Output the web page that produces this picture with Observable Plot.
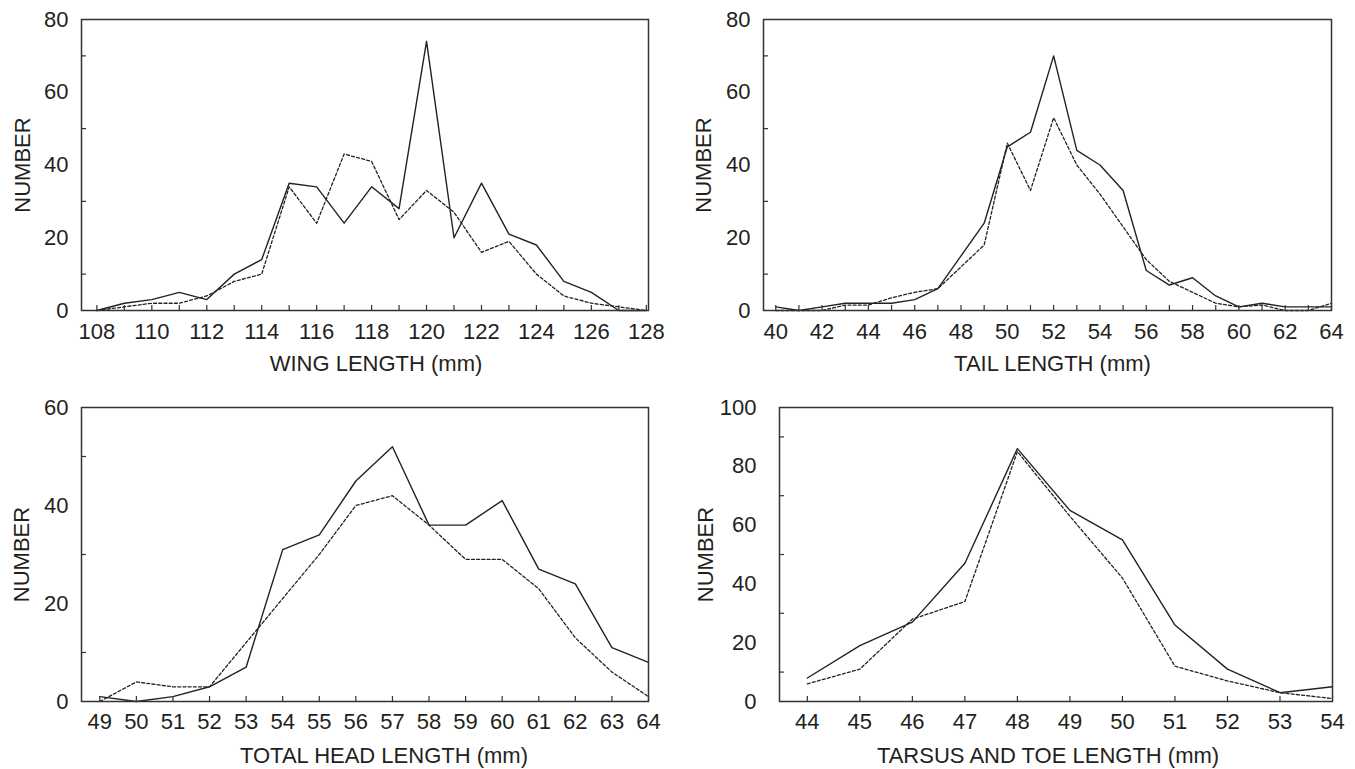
<!DOCTYPE html>
<html>
<head>
<meta charset="utf-8">
<script src="https://cdn.jsdelivr.net/npm/d3@7"></script>
<script src="https://cdn.jsdelivr.net/npm/@observablehq/plot@0.6"></script>
<style>
  html, body { margin: 0; padding: 0; background: #fff; }
  #wrap { position: relative; width: 1355px; height: 769px; overflow: hidden; }
  #wrap > div { position: absolute; }
</style>
</head>
<body>
<div id="wrap">
  <div id="p1" style="left:0;top:0"></div>
  <div id="p2" style="left:677px;top:0"></div>
  <div id="p3" style="left:0;top:385px"></div>
  <div id="p4" style="left:677px;top:385px"></div>
</div>
<script>
// ---- Data ----
const wingX      = [108,109,110,111,112,113,114,115,116,117,118,119,120,121,122,123,124,125,126,127,128];
const wingSolid  = [0,2,3,5,3,10,14,35,34,24,34,28,74,20,35,21,18,8,5,0,0];
const wingDashed = [0,1,2,2,4,8,10,34,24,43,41,25,33,27,16,19,10,4,2,1,0];
const wingXTicks = [108,110,112,114,116,118,120,122,124,126,128];

const tailX      = [40,41,42,43,44,45,46,47,48,49,50,51,52,53,54,55,56,57,58,59,60,61,62,63,64];
const tailSolid  = [1,0,1,2,2,2,3,6,15,24,45,49,70,44,40,33,11,7,9,4,1,2,1,1,1];
const tailDashed = [0,0,0,1.5,1.5,3.5,5,6,12,18,46,33,53,40,32,23,14,8,5,2,1,1.5,0,0,2];
const tailXTicks = [40,42,44,46,48,50,52,54,56,58,60,62,64];

const headX      = [49,50,51,52,53,54,55,56,57,58,59,60,61,62,63,64];
const headSolid  = [1,0,1,3,7,31,34,45,52,36,36,41,27,24,11,8];
const headDashed = [0,4,3,3,12,21,30,40,42,36,29,29,23,13,6,1];
const headXTicks = [49,50,51,52,53,54,55,56,57,58,59,60,61,62,63,64];

const tarsusX      = [44,45,46,47,48,49,50,51,52,53,54];
const tarsusSolid  = [8,19,27,47,86,65,55,26,11,3,5];
const tarsusDashed = [6,11,28,34,85,63,42,12,7,3,1];
const tarsusXTicks = [44,45,46,47,48,49,50,51,52,53,54];

const xTitles = ["WING LENGTH (mm)", "TAIL LENGTH (mm)", "TOTAL HEAD LENGTH (mm)", "TARSUS AND TOE LENGTH (mm)"];
const yTitle = "NUMBER";
const yLabels80 = [0,20,40,60,80];
const yMinor80 = [10,30,50,70];
const yLabels60 = [0,20,40,60];
const yMinor60 = [10,30,50];
const yLabels100 = [0,20,40,60,80,100];
const yMinor100 = [10,30,50,70,90];

// ---- Drawing ----
const ink = "#231f20";
function rows(xs, ys) { return xs.map((x, i) => ({x, y: ys[i]})); }

function panel(el, cfg) {
  const innerH = cfg.height - cfg.marginTop - cfg.marginBottom;
  const innerW = cfg.width - cfg.marginLeft - cfg.marginRight;
  const xTickAll = d3.range(Math.ceil(cfg.xDomain[0]), Math.floor(cfg.xDomain[1]) + 1);
  const chart = Plot.plot({
    width: cfg.width, height: cfg.height,
    marginLeft: cfg.marginLeft, marginRight: cfg.marginRight,
    marginTop: cfg.marginTop, marginBottom: cfg.marginBottom,
    x: {domain: cfg.xDomain},
    y: {domain: cfg.yDomain},
    style: {fontFamily: "'Liberation Sans', Arial, sans-serif", fontSize: "22px", color: ink, background: "transparent", overflow: "visible"},
    marks: [
      Plot.line(rows(cfg.xs, cfg.dashed), {x: "x", y: "y", stroke: "#222", strokeWidth: 1.3, strokeDasharray: "3,2.2"}),
      Plot.line(rows(cfg.xs, cfg.solid), {x: "x", y: "y", stroke: "#222", strokeWidth: 1.4}),
      Plot.tickX(xTickAll, {x: d => d, stroke: "#333", strokeWidth: 1.2, insetTop: innerH - 5}),
      Plot.tickY(cfg.yMinor, {y: d => d, stroke: "#333", strokeWidth: 1.2, insetRight: innerW - 5}),
      Plot.axisX({ticks: cfg.xTicks, tickSize: 0, tickPadding: cfg.xPad, tickFormat: d => String(d), label: null, fontSize: 22}),
      Plot.axisY({ticks: cfg.yLabels, tickSize: 0, tickPadding: cfg.yPad, tickFormat: d => String(d), label: null, fontSize: 22}),
      Plot.text([cfg.xTitle], {text: d => d, frameAnchor: "bottom", lineAnchor: "top", dy: cfg.titleDy, dx: cfg.titleDx, fill: ink, fontSize: 22}),
      Plot.text([yTitle], {text: d => d, frameAnchor: "left", rotate: -90, textAnchor: "middle", lineAnchor: "middle", dx: cfg.yTitleDx, fill: ink, fontSize: 22}),
      Plot.frame({stroke: "#333", strokeWidth: 1.5})
    ]
  });
  document.getElementById(el).appendChild(chart);
}

panel("p1", {
  width: 677, height: 385, marginLeft: 81, marginRight: 29, marginTop: 19, marginBottom: 75,
  xDomain: [107.44, 128.08], yDomain: [0, 80],
  xs: wingX, solid: wingSolid, dashed: wingDashed,
  xTicks: wingXTicks, yLabels: yLabels80, yMinor: yMinor80,
  xPad: 13, yPad: 13, xTitle: xTitles[0], titleDy: 45, titleDx: 11, yTitleDx: -59
});
panel("p2", {
  width: 678, height: 385, marginLeft: 86, marginRight: 24, marginTop: 19, marginBottom: 75,
  xDomain: [39.47, 64], yDomain: [0, 80],
  xs: tailX, solid: tailSolid, dashed: tailDashed,
  xTicks: tailXTicks, yLabels: yLabels80, yMinor: yMinor80,
  xPad: 13, yPad: 13, xTitle: xTitles[1], titleDy: 45, titleDx: 5, yTitleDx: -60
});
panel("p3", {
  width: 677, height: 384, marginLeft: 81, marginRight: 29, marginTop: 22, marginBottom: 68,
  xDomain: [48.5, 64], yDomain: [0, 60],
  xs: headX, solid: headSolid, dashed: headDashed,
  xTicks: headXTicks, yLabels: yLabels60, yMinor: yMinor60,
  xPad: 12, yPad: 13, xTitle: xTitles[2], titleDy: 46, titleDx: 19, yTitleDx: -60
});
panel("p4", {
  width: 678, height: 384, marginLeft: 102, marginRight: 23, marginTop: 22, marginBottom: 68,
  xDomain: [43.47, 54], yDomain: [0, 100],
  xs: tarsusX, solid: tarsusSolid, dashed: tarsusDashed,
  xTicks: tarsusXTicks, yLabels: yLabels100, yMinor: yMinor100,
  xPad: 12, yPad: 23, xTitle: xTitles[3], titleDy: 46, titleDx: -8, yTitleDx: -74
});
</script>
</body>
</html>
